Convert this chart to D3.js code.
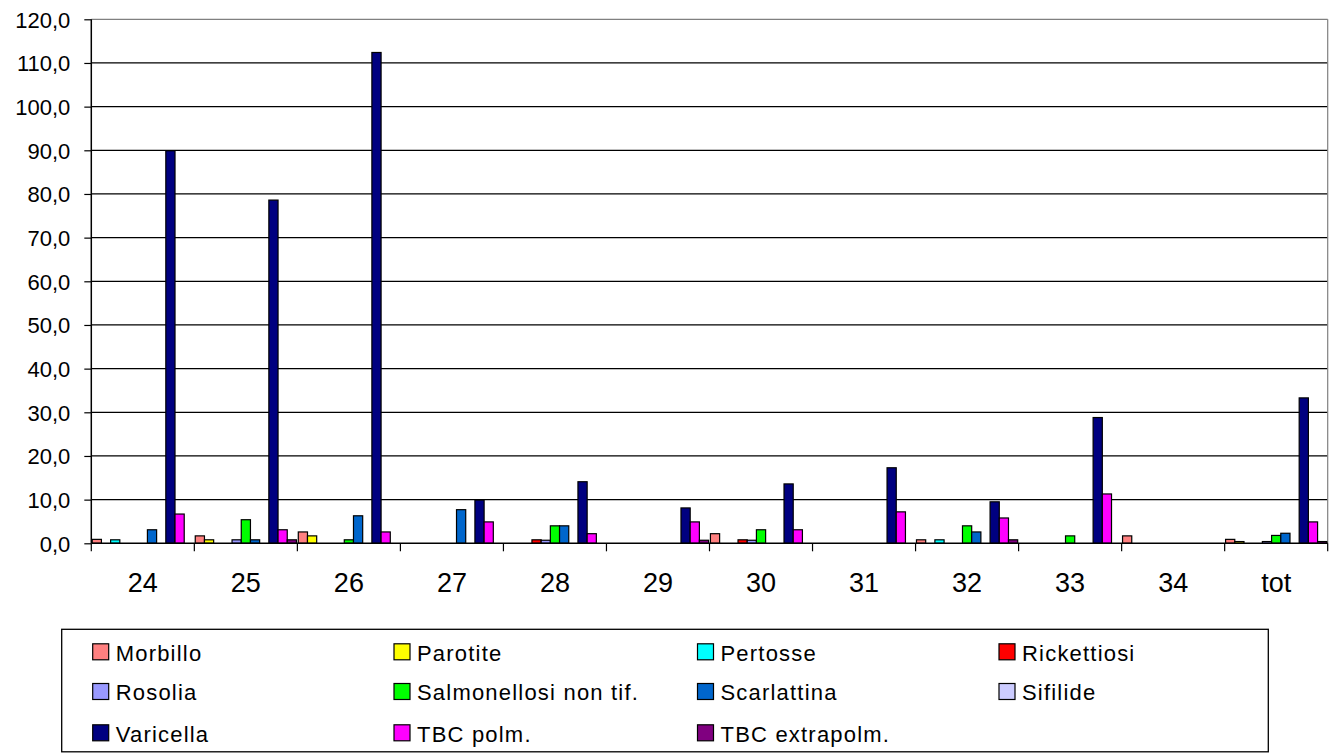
<!DOCTYPE html>
<html><head><meta charset="utf-8">
<script src="https://cdn.jsdelivr.net/npm/d3@7"></script>
<style>body{margin:0;background:#fff}svg{display:block}text{font-family:"Liberation Sans",Arial,sans-serif;fill:#000}</style>
</head><body><svg id="c" width="1334" height="755"></svg>
<script>
const categories = ["24","25","26","27","28","29","30","31","32","33","34","tot"];
const seriesNames = ["Morbillo","Parotite","Pertosse","Rickettiosi","Rosolia","Salmonellosi non tif.","Scarlattina","Sifilide","Varicella","TBC polm.","TBC extrapolm."];
const seriesColors = ["#FF8080","#FFFF00","#00FFFF","#FF0000","#9999FF","#00FF00","#0066CC","#CCCCFF","#000080","#FF00FF","#800080"];
const morbillo     = [0.9, 1.7, 2.6, 0, 0, 0, 2.2, 0, 0.8, 0, 1.7, 0.9];
const parotite     = [0, 0.8, 1.7, 0, 0, 0, 0, 0, 0, 0, 0, 0.4];
const pertosse     = [0.8, 0, 0, 0, 0, 0, 0, 0, 0.8, 0, 0, 0];
const rickettiosi  = [0, 0, 0, 0, 0.8, 0, 0.8, 0, 0, 0, 0, 0];
const rosolia      = [0, 0.8, 0, 0, 0.7, 0, 0.7, 0, 0, 0, 0, 0.4];
const salmonellosi = [0, 5.4, 0.8, 0, 4.0, 0, 3.1, 0, 4.0, 1.7, 0, 1.8];
const scarlattina  = [3.1, 0.8, 6.3, 7.7, 4.0, 0, 0, 0, 2.6, 0, 0, 2.3];
const sifilide     = [0, 0, 0, 0, 0, 0, 0, 0, 0, 0, 0, 0];
const varicella    = [89.9, 78.6, 112.4, 9.9, 14.1, 8.1, 13.6, 17.3, 9.5, 28.8, 0, 33.3];
const tbcPolm      = [6.7, 3.1, 2.6, 4.9, 2.2, 4.9, 3.1, 7.2, 5.8, 11.3, 0, 4.9];
const tbcExtra     = [0, 0.8, 0, 0, 0, 0.7, 0, 0, 0.8, 0, 0, 0.4];
const yTicks = [0,10,20,30,40,50,60,70,80,90,100,110,120];

const seriesValues = [morbillo, parotite, pertosse, rickettiosi, rosolia, salmonellosi, scarlattina, sifilide, varicella, tbcPolm, tbcExtra];

const svg = d3.select("#c");
const L = 91.3, R = 1327.7, T = 19.3, B = 543.3;
const x = d3.scaleBand().domain(categories).range([L, R]).padding(0);
const xs = d3.scaleBand().domain(d3.range(seriesNames.length)).range([0, x.bandwidth()]).paddingInner(0).paddingOuter(0.1);
const y = d3.scaleLinear().domain([0, 120]).range([B, T]);
const fmt = v => d3.format(".1f")(v).replace(".", ",");

// gridlines
svg.append("g").selectAll("line").data(yTicks.filter(t => t > 0)).join("line")
  .attr("x1", L).attr("x2", R).attr("y1", d => y(d)).attr("y2", d => y(d))
  .attr("stroke", d => d === 120 ? "#808080" : "#000").attr("stroke-width", 1.2);
// right border
svg.append("line").attr("x1", R).attr("x2", R).attr("y1", T).attr("y2", B).attr("stroke", "#808080").attr("stroke-width", 1.2);

// bars
const g = svg.append("g");
seriesValues.forEach((vals, si) => {
  g.append("g").selectAll("rect").data(vals.map((v, ci) => ({v, c: categories[ci]})).filter(d => d.v > 0)).join("rect")
    .attr("x", d => x(d.c) + xs(si))
    .attr("width", xs.bandwidth())
    .attr("y", d => y(d.v))
    .attr("height", d => B - y(d.v))
    .attr("fill", seriesColors[si])
    .attr("stroke", "#000").attr("stroke-width", 1.2);
});

// y axis
const yAxis = d3.axisLeft(y).tickValues(yTicks).tickFormat(fmt).tickSize(7).tickPadding(14);
const ya = svg.append("g").attr("transform", `translate(${L},0)`).call(yAxis);
ya.select(".domain").remove();
ya.selectAll("line").attr("stroke", "#000").attr("stroke-width", 1.2);
ya.selectAll("text").attr("font-size", 22).attr("font-family", "Liberation Sans, Arial, sans-serif").attr("fill", "#000").attr("dy", "0.36em");
svg.append("line").attr("x1", L).attr("x2", L).attr("y1", T).attr("y2", B).attr("stroke", "#000").attr("stroke-width", 1.5);

// x axis: ticks at category boundaries
const xAxis = svg.append("g");
xAxis.append("line").attr("x1", L).attr("x2", R).attr("y1", B).attr("y2", B).attr("stroke", "#000").attr("stroke-width", 1.5);
const bounds = categories.map(c => x(c)).concat([R]);
xAxis.selectAll("line.tk").data(bounds).join("line").attr("class", "tk")
  .attr("x1", d => d).attr("x2", d => d).attr("y1", B).attr("y2", B + 8).attr("stroke", "#000").attr("stroke-width", 1.2);
xAxis.selectAll("text").data(categories).join("text")
  .attr("x", d => x(d) + x.bandwidth() / 2).attr("y", 592)
  .attr("text-anchor", "middle").attr("font-size", 27).text(d => d);

// legend
svg.append("rect").attr("x", 61.7).attr("y", 629.3).attr("width", 1206.6).attr("height", 122.5)
  .attr("fill", "#fff").attr("stroke", "#000").attr("stroke-width", 1.3);
const colX = [92.7, 394, 697.5, 999];
const rowY = [652.3, 692, 733.3];
const lg = svg.append("g").selectAll("g").data(seriesNames).join("g")
  .attr("transform", (d, i) => `translate(${colX[i % 4]},${rowY[Math.floor(i / 4)]})`);
lg.append("rect").attr("x", 0).attr("y", -8.5).attr("width", 16).attr("height", 16)
  .attr("fill", (d, i) => seriesColors[i]).attr("stroke", "#000").attr("stroke-width", 1.2);
lg.append("text").attr("x", 23).attr("y", 8.2).attr("font-size", 22).attr("letter-spacing", 1.2).text(d => d);
</script></body></html>
